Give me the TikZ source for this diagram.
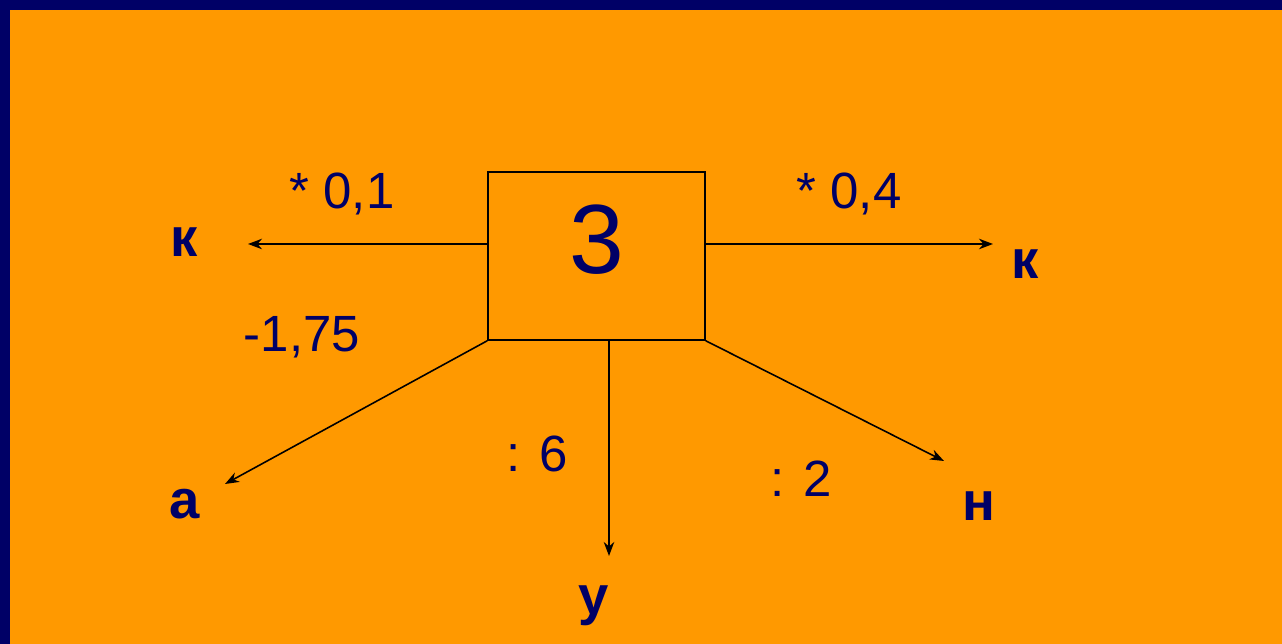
\documentclass[tikz,border=0pt]{standalone}
\usepackage{fontspec}
\setmainfont{Liberation Sans}
\usepackage{tikz}
\usetikzlibrary{arrows.meta}

\definecolor{navyblue}{HTML}{000066}
\definecolor{slideorange}{HTML}{FF9900}

\tikzset{
  lbl/.style={text=navyblue, inner sep=0pt, anchor=base, font=\fontsize{29}{35}\selectfont},
  var/.style={lbl, font=\fontsize{31}{37}\selectfont\bfseries},
  link/.style={->, line width=0.9pt, black}
}

\begin{document}
\begin{tikzpicture}[x=0.02cm, y=-0.02cm, >={Stealth[length=8pt, width=6pt]}]
      % Фон слайда
      \fill[navyblue] (0,0) rectangle (1282,644);
      \fill[slideorange] (10,10) rectangle (1282,644);
      \useasboundingbox (0,0) rectangle (1282,644);

      % Прямоугольник с числом
      \node[draw, line width=0.9pt, minimum width=4.34cm, minimum height=3.36cm, inner sep=0pt] (box) at (596.5,256) {};
      \node[lbl, font=\fontsize{56}{60}\selectfont] (num) at (596.5,274) {3};

      % Концы стрелок
      \coordinate (kleftend) at (248,244);
      \coordinate (krightend) at (993,244);
      \coordinate (aend) at (225,484);
      \coordinate (yend) at (609,556);
      \coordinate (nend) at (944,461);

      % Стрелки
      \draw[link] (box.west |- kleftend) -- (kleftend);
      \draw[link] (box.east |- krightend) -- (krightend);
      \draw[link] (box.south west) -- (aend);
      \draw[link] (box.south -| yend) -- (yend);
      \draw[link] (box.south east) -- (nend);

      % Переменные
      \node[var] (kleft) at (184,257) {к};
      \node[var] (kright) at (1025,279) {к};
      \node[var] (a) at (185,519) {а};
      \node[var] (y) at (594,615) {у};
      \node[var] (n) at (979,521) {н};

      % Операции
      \node[lbl] (op1) at (342,209) {* 0,1};
      \node[lbl] (op2) at (849,209) {* 0,4};
      \node[lbl] (op3) at (302,352) {-1,75};
      \node[lbl] (op4) at (537,472) {: 6};
      \node[lbl] (op5) at (801,497) {: 2};
\end{tikzpicture}
\end{document}
